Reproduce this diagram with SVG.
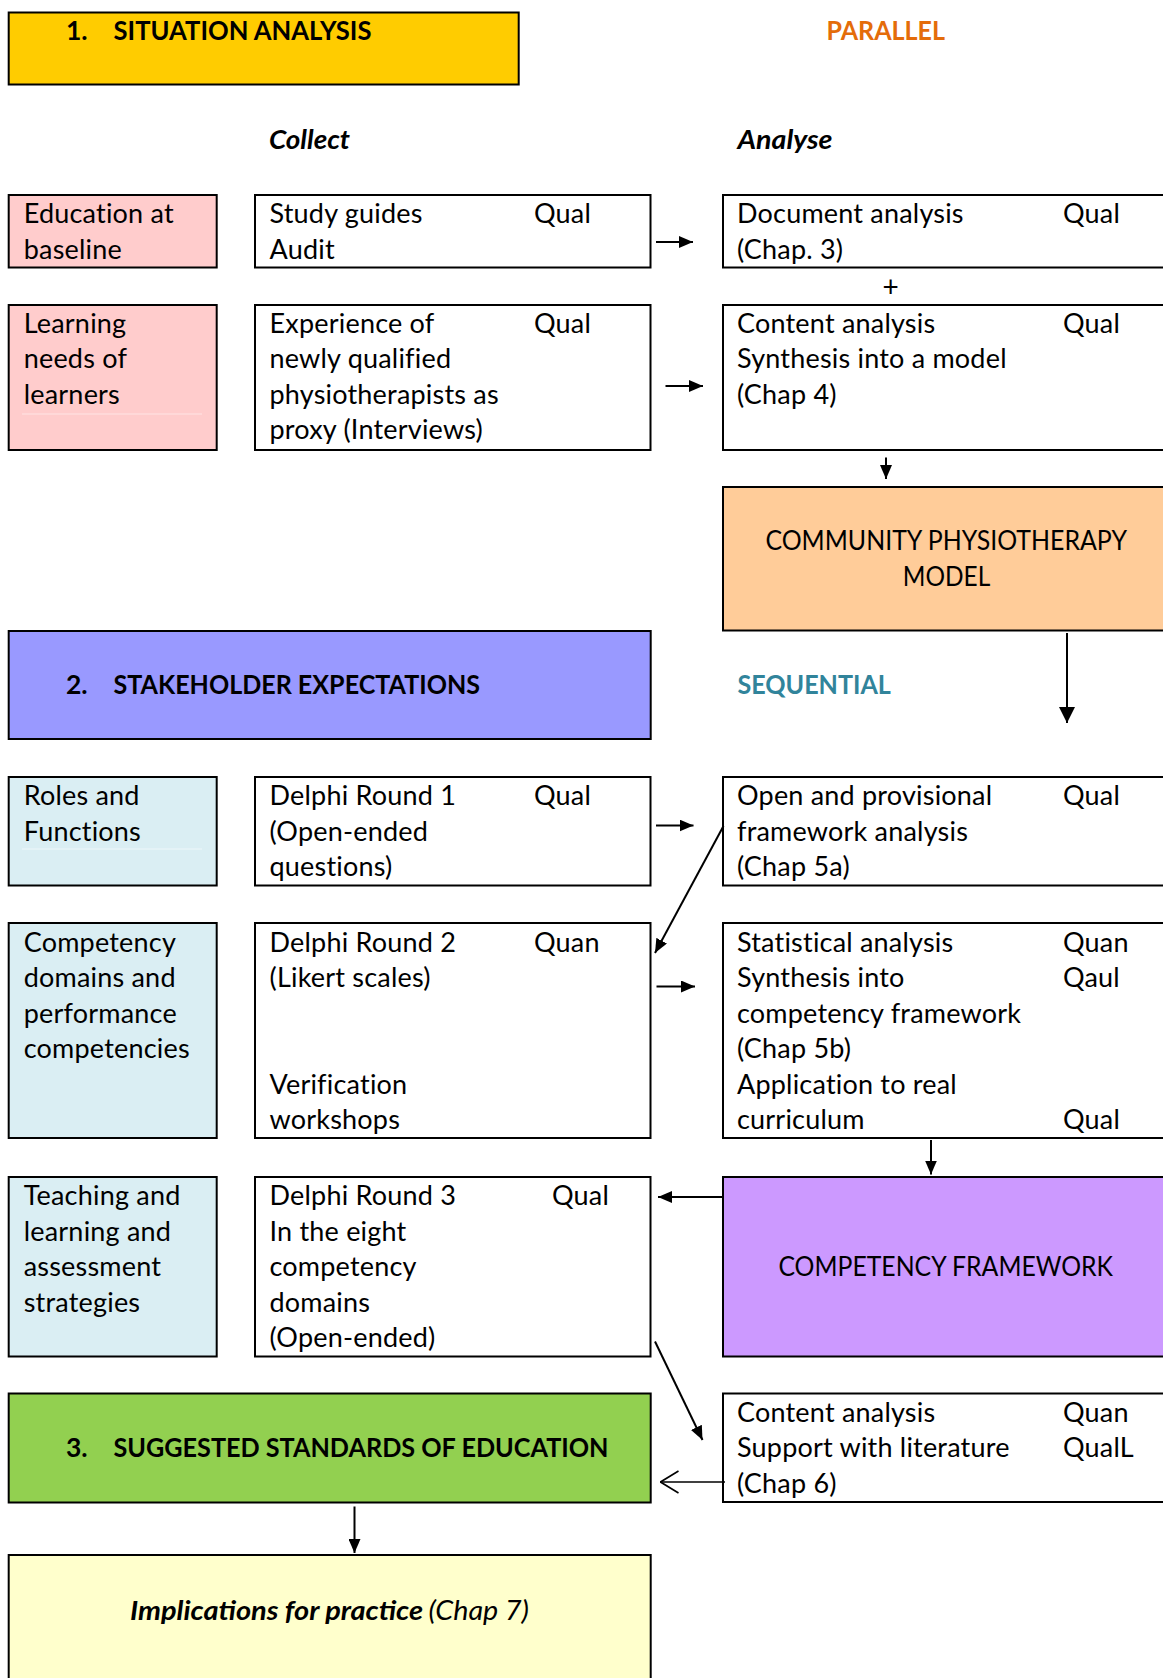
<svg xmlns="http://www.w3.org/2000/svg" width="1163" height="1678" viewBox="0 0 1163 1678">
<defs>
<style>
text{font-family:Lato,"Open Sans","Liberation Sans",sans-serif;font-size:27px;letter-spacing:0.2px;fill:#000}
.b{font-weight:bold;font-size:26.5px;letter-spacing:0}
.bi{font-weight:bold;font-style:italic;letter-spacing:0}
.i{font-style:italic;letter-spacing:0}
.cap{letter-spacing:0}
.box{stroke:#000;stroke-width:2}
.c{text-anchor:middle}
.plus{font-size:28px;letter-spacing:0}
.ln{stroke:#000;stroke-width:2;fill:none}
.thin{stroke:#000;stroke-width:1.6;fill:none}
</style>
<marker id="ah" viewBox="0 0 14 12" refX="14" refY="6" markerWidth="14" markerHeight="12" markerUnits="userSpaceOnUse" orient="auto"><path d="M0,0 L14,6 L0,12 z" fill="#000"/></marker>
<marker id="ahL" viewBox="0 0 16 16" refX="16" refY="8" markerWidth="16" markerHeight="16" markerUnits="userSpaceOnUse" orient="auto"><path d="M0,0 L16,8 L0,16 z" fill="#000"/></marker>
<marker id="ahO" viewBox="0 0 20 24" refX="19" refY="12" markerWidth="20" markerHeight="24" markerUnits="userSpaceOnUse" orient="auto"><path d="M1,1 L19,12 L1,23" fill="none" stroke="#000" stroke-width="1.6"/></marker>
</defs>
<rect width="1163" height="1678" fill="#fff"/>

<g id="situation-analysis">
<rect class="box" x="8.7" y="12.5" width="510" height="72" fill="#FFCC00"/>
<text class="b" x="66" y="40">1.</text>
<text class="b" x="113.5" y="40" textLength="258" lengthAdjust="spacingAndGlyphs">SITUATION ANALYSIS</text>
</g>
<text class="b" x="826.5" y="40" textLength="118.5" lengthAdjust="spacingAndGlyphs" style="fill:#E46C0A">PARALLEL</text>
<text class="bi" x="269" y="148.5" textLength="81" lengthAdjust="spacingAndGlyphs">Collect</text>
<text class="bi" x="737.5" y="148.5" textLength="95" lengthAdjust="spacingAndGlyphs">Analyse</text>

<g id="education-baseline">
<rect class="box" x="8.7" y="195" width="208" height="72.5" fill="#FFCCCC"/>
<text x="23.7" y="223">Education at</text>
<text x="23.7" y="258.5">baseline</text>
</g>
<g id="study-guides">
<rect class="box" x="255" y="195" width="395.5" height="72.5" fill="#fff"/>
<text x="269.5" y="223">Study guides</text>
<text x="534" y="223">Qual</text>
<text x="269.5" y="258.5">Audit</text>
</g>
<g id="document-analysis">
<rect class="box" x="723" y="195" width="450" height="72.5" fill="#fff"/>
<text x="737" y="223">Document analysis</text>
<text x="1063" y="223">Qual</text>
<text x="737" y="258.5">(Chap. 3)</text>
</g>
<text class="plus c" x="890.5" y="297">+</text>

<g id="learning-needs">
<rect class="box" x="8.7" y="305" width="208" height="145" fill="#FFCCCC"/>
<line x1="22" y1="414" x2="202" y2="414" stroke="#FFE4E4" stroke-width="1"/>
<text x="23.7" y="332.5">Learning</text>
<text x="23.7" y="368">needs of</text>
<text x="23.7" y="403.5">learners</text>
</g>
<g id="experience">
<rect class="box" x="255" y="305" width="395.5" height="145" fill="#fff"/>
<text x="269.5" y="332.5">Experience of</text>
<text x="534" y="332.5">Qual</text>
<text x="269.5" y="368">newly qualified</text>
<text x="269.5" y="403.5">physiotherapists as</text>
<text x="269.5" y="439">proxy (Interviews)</text>
</g>
<g id="content-analysis-4">
<rect class="box" x="723" y="305" width="450" height="145" fill="#fff"/>
<text x="737" y="332.5">Content analysis</text>
<text x="1063" y="332.5">Qual</text>
<text x="737" y="368">Synthesis into a model</text>
<text x="737" y="403.5">(Chap 4)</text>
</g>

<g id="community-model">
<rect class="box" x="723" y="487" width="450" height="143.5" fill="#FFCC99"/>
<text class="cap" x="765.4" y="550" textLength="361.6" lengthAdjust="spacingAndGlyphs">COMMUNITY PHYSIOTHERAPY</text>
<text class="cap" x="902.8" y="586" textLength="87.4" lengthAdjust="spacingAndGlyphs">MODEL</text>
</g>

<g id="stakeholder-expectations">
<rect class="box" x="8.7" y="631" width="642" height="108" fill="#9999FF"/>
<text class="b" x="66" y="694">2.</text>
<text class="b" x="113.5" y="694" textLength="366.5" lengthAdjust="spacingAndGlyphs">STAKEHOLDER EXPECTATIONS</text>
</g>
<text class="b" x="737.4" y="694" textLength="153.5" lengthAdjust="spacingAndGlyphs" style="fill:#31849B">SEQUENTIAL</text>

<g id="roles-functions">
<rect class="box" x="8.7" y="777" width="208" height="108.5" fill="#DAEEF3"/>
<line x1="22" y1="849" x2="202" y2="849" stroke="#EEF7FA" stroke-width="1"/>
<text x="23.7" y="805">Roles and</text>
<text x="23.7" y="840.5">Functions</text>
</g>
<g id="delphi-1">
<rect class="box" x="255" y="777" width="395.5" height="108.5" fill="#fff"/>
<text x="269.5" y="805">Delphi Round 1</text>
<text x="534" y="805">Qual</text>
<text x="269.5" y="840.5">(Open-ended</text>
<text x="269.5" y="876">questions)</text>
</g>
<g id="open-provisional">
<rect class="box" x="723" y="777" width="450" height="108.5" fill="#fff"/>
<text x="737" y="805">Open and provisional</text>
<text x="1063" y="805">Qual</text>
<text x="737" y="840.5">framework analysis</text>
<text x="737" y="876">(Chap 5a)</text>
</g>

<g id="competency-domains">
<rect class="box" x="8.7" y="923" width="208" height="215" fill="#DAEEF3"/>
<text x="23.7" y="951.5">Competency</text>
<text x="23.7" y="987">domains and</text>
<text x="23.7" y="1022.5">performance</text>
<text x="23.7" y="1058">competencies</text>
</g>
<g id="delphi-2">
<rect class="box" x="255" y="923" width="395.5" height="215" fill="#fff"/>
<text x="269.5" y="951.5">Delphi Round 2</text>
<text x="534" y="951.5">Quan</text>
<text x="269.5" y="987">(Likert scales)</text>
<text x="269.5" y="1093.5">Verification</text>
<text x="269.5" y="1129">workshops</text>
</g>
<g id="statistical-analysis">
<rect class="box" x="723" y="923" width="450" height="215" fill="#fff"/>
<text x="737" y="951.5">Statistical analysis</text>
<text x="1063" y="951.5">Quan</text>
<text x="737" y="987">Synthesis into</text>
<text x="1063" y="987">Qaul</text>
<text x="737" y="1022.5">competency framework</text>
<text x="737" y="1058">(Chap 5b)</text>
<text x="737" y="1093.5">Application to real</text>
<text x="737" y="1129">curriculum</text>
<text x="1063" y="1129">Qual</text>
</g>

<g id="teaching-strategies">
<rect class="box" x="8.7" y="1177" width="208" height="179.5" fill="#DAEEF3"/>
<text x="23.7" y="1205">Teaching and</text>
<text x="23.7" y="1240.5">learning and</text>
<text x="23.7" y="1276">assessment</text>
<text x="23.7" y="1311.5">strategies</text>
</g>
<g id="delphi-3">
<rect class="box" x="255" y="1177" width="395.5" height="179.5" fill="#fff"/>
<text x="269.5" y="1205">Delphi Round 3</text>
<text x="552" y="1205">Qual</text>
<text x="269.5" y="1240.5">In the eight</text>
<text x="269.5" y="1276">competency</text>
<text x="269.5" y="1311.5">domains</text>
<text x="269.5" y="1347">(Open-ended)</text>
</g>
<g id="competency-framework">
<rect class="box" x="723" y="1177" width="450" height="179.5" fill="#CC99FF"/>
<text class="cap" x="778.4" y="1275.5" textLength="334.6" lengthAdjust="spacingAndGlyphs">COMPETENCY FRAMEWORK</text>
</g>

<g id="suggested-standards">
<rect class="box" x="8.7" y="1393.5" width="642" height="109" fill="#92D050"/>
<text class="b" x="66" y="1457">3.</text>
<text class="b" x="113.5" y="1457" textLength="495" lengthAdjust="spacingAndGlyphs">SUGGESTED STANDARDS OF EDUCATION</text>
</g>
<g id="content-analysis-6">
<rect class="box" x="723" y="1393.5" width="450" height="108.5" fill="#fff"/>
<text x="737" y="1421.5">Content analysis</text>
<text x="1063" y="1421.5">Quan</text>
<text x="737" y="1457">Support with literature</text>
<text x="1063" y="1457">QualL</text>
<text x="737" y="1492.5">(Chap 6)</text>
</g>

<g id="implications">
<rect class="box" x="8.7" y="1555" width="642" height="140" fill="#FFFFCC"/>
<text class="bi" x="130" y="1620" textLength="293" lengthAdjust="spacingAndGlyphs">Implications for practice</text>
<text class="i" x="428.5" y="1620" textLength="100.5" lengthAdjust="spacingAndGlyphs">(Chap 7)</text>
</g>

<g id="connectors">
<line class="ln" x1="656" y1="242" x2="693" y2="242" marker-end="url(#ah)"/>
<line class="ln" x1="665.5" y1="386" x2="703" y2="386" marker-end="url(#ah)"/>
<line class="ln" x1="886" y1="457.5" x2="886" y2="479" marker-end="url(#ah)"/>
<line class="ln" x1="1067" y1="633" x2="1067" y2="723" marker-end="url(#ahL)"/>
<line class="ln" x1="656" y1="825.5" x2="693.5" y2="825.5" marker-end="url(#ah)"/>
<line class="ln" x1="723.5" y1="826" x2="655" y2="953" marker-end="url(#ah)"/>
<line class="ln" x1="656.5" y1="986.5" x2="695" y2="986.5" marker-end="url(#ah)"/>
<line class="ln" x1="931" y1="1140" x2="931" y2="1174.5" marker-end="url(#ah)"/>
<line class="ln" x1="722.5" y1="1197" x2="658" y2="1197" marker-end="url(#ah)"/>
<line class="ln" x1="655" y1="1341.5" x2="702.5" y2="1440" marker-end="url(#ah)"/>
<line class="thin" x1="725" y1="1482" x2="660.5" y2="1482" marker-end="url(#ahO)"/>
<line class="ln" x1="354.5" y1="1506.5" x2="354.5" y2="1553" marker-end="url(#ah)"/>
</g>
</svg>
